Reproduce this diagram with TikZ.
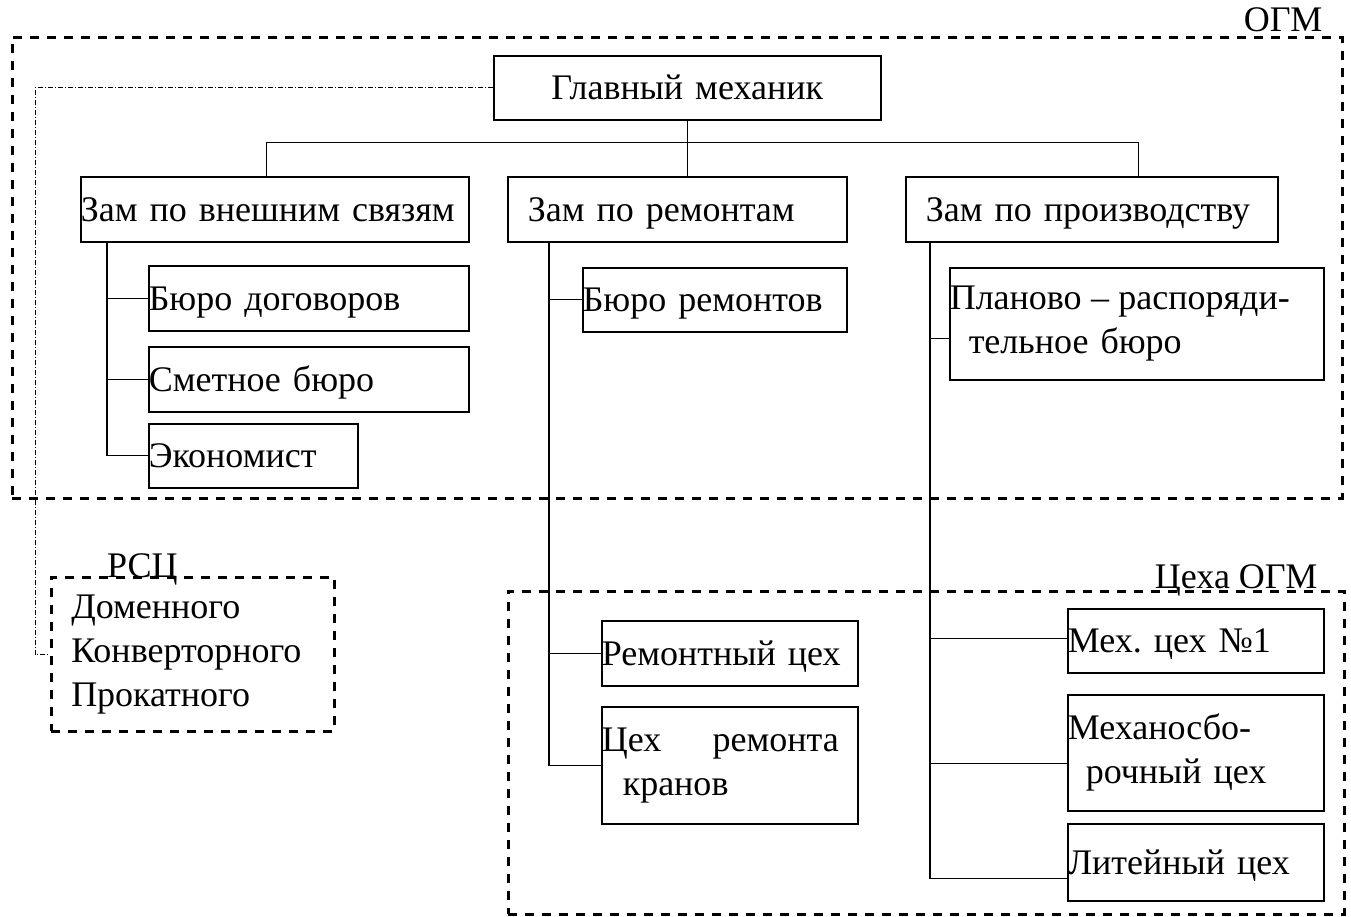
\documentclass[tikz,border=0pt]{standalone}
\usepackage{fontspec}
\setmainfont{Liberation Serif}
\usetikzlibrary{positioning}
\frenchspacing

\begin{document}
\begin{tikzpicture}[x=1pt, y=-1pt,
    every node/.style={font=\fontsize{36}{44}\selectfont},
    unit/.style={draw, line width=1.5pt, rectangle, anchor=north west, inner sep=0pt, align=left},
    oneline/.style={text height=24pt, text depth=0pt},
    region/.style={draw, line width=2.5pt, dash pattern=on 9pt off 8pt, rectangle, anchor=north west, inner sep=0pt},
    link/.style={line width=1.3pt},
    ctrlline/.style={line width=1pt, dash pattern=on 5pt off 2pt on 1pt off 2pt}]
  \useasboundingbox (0,0) rectangle (1351,916);

  \node[region, minimum width=1330pt, minimum height=461pt] (ogm) at (11,36) {};
  \node[anchor=base east, inner sep=0pt] (ogm-name) at ([xshift=-21pt, yshift=5pt]ogm.north east) {ОГМ};
  \node[region, minimum width=836pt, minimum height=323pt] (shops) at (507,590) {};
  \node[anchor=base east, inner sep=0pt] (shops-name) at ([xshift=-28pt, yshift=2pt]shops.north east) {Цеха ОГМ};
  \node[region, minimum width=283pt, minimum height=154pt, text width=243pt, inner xsep=20pt, align=left] (rsc) at (50,576) {Доменного\\Конверторного\\Прокатного};
  \node[anchor=base west, inner sep=0pt] (rsc-name) at ([xshift=57pt, yshift=-1pt]rsc.north west) {РСЦ};

  \node[unit, oneline, align=center, text width=387pt, minimum height=64pt] (gm) at (493,55) {Главный механик};
  \node[unit, oneline, text width=388pt, minimum height=65pt] (zv) at (80,176) {Зам по внешним связям};
  \node[unit, oneline, text width=339pt, minimum height=65pt] (zr) at (507,176) {\hspace*{20pt}Зам по ремонтам};
  \node[unit, oneline, text width=372pt, minimum height=65pt] (zp) at (905,176) {\hspace*{20pt}Зам по производству};

  \node[unit, oneline, text width=320pt, minimum height=65pt] (bd) at (148,265) {Бюро договоров};
  \node[unit, oneline, text width=320pt, minimum height=65pt] (sb) at (148,346) {Сметное бюро};
  \node[unit, oneline, text width=209pt, minimum height=64pt] (ek) at (148,423) {Экономист};

  \node[unit, oneline, text width=264pt, minimum height=64pt] (br) at (582,267) {Бюро ремонтов};
  \node[unit, oneline, text width=256pt, minimum height=65pt] (rc) at (601,620) {Ремонтный цех};
  \node[unit, text width=256pt, minimum height=117pt] (ck) at (601,706) {\hbox to 237pt{Цех\hfill ремонта}\\\hspace*{21pt}кранов};

  \node[unit, text width=374pt, minimum height=112pt] (pr) at (949,267) {\hbox to 340pt{Планово\hfill –\hfill распоряди-}\\\hspace*{19pt}тельное бюро};
  \node[unit, oneline, text width=256pt, minimum height=64pt] (m1) at (1067,608) {Мех. цех №1};
  \node[unit, text width=256pt, minimum height=116pt] (ms) at (1067,694) {Механосбо-\\\hspace*{18pt}рочный цех};
  \node[unit, oneline, text width=256pt, minimum height=77pt] (lc) at (1067,823) {Литейный цех};

  \coordinate (bus) at ([yshift=-22pt]gm.south);
  \draw[link] (gm.south) -- (gm.south |- zr.north);
  \draw[link] ([xshift=-8pt]zv.north) |- (bus);
  \draw[link] ([xshift=47pt]zp.north) |- (bus);

  \coordinate (tl) at ([xshift=27pt]zv.south west);
  \coordinate (tm) at ([xshift=42pt]zr.south west);
  \coordinate (tr) at ([xshift=25pt]zp.south west);
  \foreach \n in {bd, sb, ek} \draw[link] (\n.west) -| (tl);
  \foreach \n in {br, rc, ck} \draw[link] (\n.west) -| (tm);
  \foreach \n/\dy in {pr/-15pt, m1/2pt, ms/-11pt, lc/-16pt} \draw[link] ([yshift=\dy]\n.west) -| (tr);

  \coordinate (dd) at (35,0);
  \draw[ctrlline] (gm.west) -- (gm.west -| dd) |- (rsc.west);
\end{tikzpicture}
\end{document}
